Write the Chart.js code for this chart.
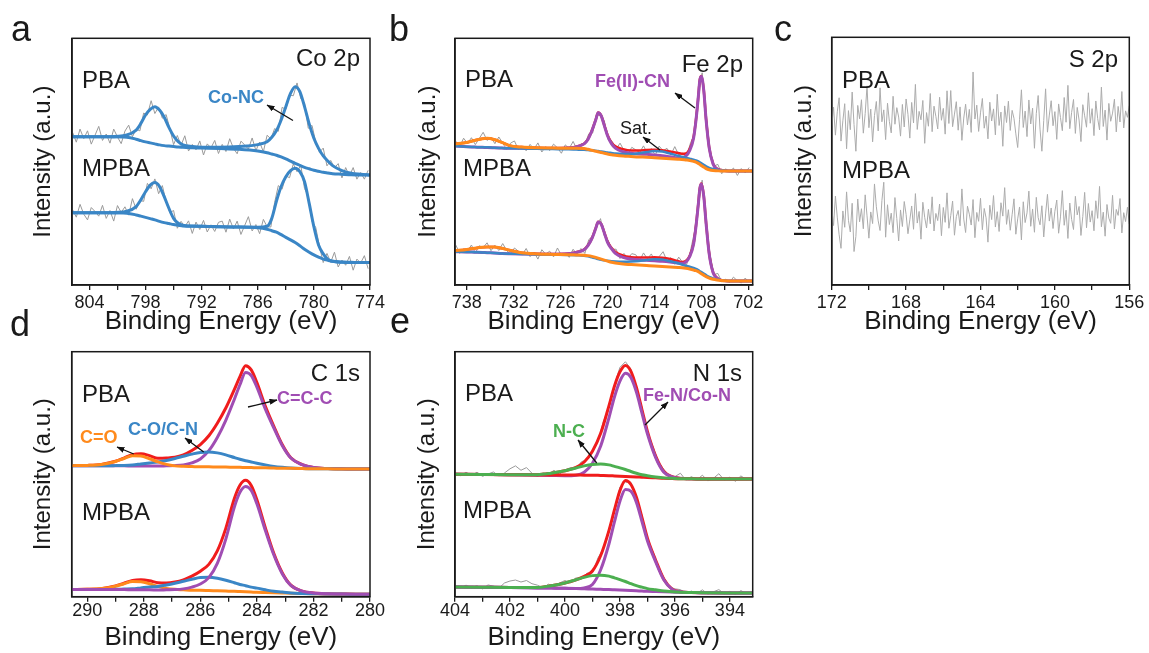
<!DOCTYPE html>
<html>
<head>
<meta charset="utf-8">
<script src="https://cdn.jsdelivr.net/npm/chart.js@4.4.1/dist/chart.umd.min.js"></script>
<style>
html,body{margin:0;padding:0;background:#fff;}
#wrap{position:relative;width:1149px;height:653px;overflow:hidden;font-family:'Liberation Sans',Arial,sans-serif;color:#1a1a1a;}
canvas{position:absolute;}
.t{position:absolute;line-height:1;white-space:nowrap;}
.pl{font-size:36px;}
.lab{font-size:24px;}
.bl{font-size:18px;font-weight:bold;}
.sm{font-size:18px;}
</style>
</head>
<body>
<div id="wrap">
<canvas id="ca" width="380" height="310" style="left:10px;top:30px"></canvas>
<canvas id="cb" width="380" height="310" style="left:395px;top:30px"></canvas>
<canvas id="cc" width="374" height="310" style="left:775px;top:30px"></canvas>
<canvas id="cd" width="380" height="310" style="left:10px;top:343px"></canvas>
<canvas id="ce" width="380" height="310" style="left:395px;top:343px"></canvas>

<div class="t pl" style="left:11px;top:11px">a</div>
<div class="t pl" style="left:389px;top:11px">b</div>
<div class="t pl" style="left:774px;top:11px">c</div>
<div class="t pl" style="left:10px;top:306px">d</div>
<div class="t pl" style="left:390px;top:303px">e</div>

<div class="t lab" style="right:789px;top:46px">Co 2p</div>
<div class="t lab" style="left:82px;top:68px">PBA</div>
<div class="t lab" style="left:82px;top:156px">MPBA</div>
<div class="t bl" style="left:208px;top:88px;color:#3a86c6">Co-NC</div>

<div class="t lab" style="right:406px;top:52px">Fe 2p</div>
<div class="t lab" style="left:465px;top:67px">PBA</div>
<div class="t lab" style="left:463px;top:156px">MPBA</div>
<div class="t bl" style="left:595px;top:72px;color:#a04db3">Fe(II)-CN</div>
<div class="t sm" style="left:620px;top:119px">Sat.</div>

<div class="t lab" style="right:31px;top:47px">S 2p</div>
<div class="t lab" style="left:842px;top:68px">PBA</div>
<div class="t lab" style="left:842px;top:158px">MPBA</div>

<div class="t lab" style="right:789px;top:361px">C 1s</div>
<div class="t lab" style="left:82px;top:382px">PBA</div>
<div class="t lab" style="left:82px;top:500px">MPBA</div>
<div class="t bl" style="left:80px;top:428px;color:#ff8a1c">C=O</div>
<div class="t bl" style="left:128px;top:420px;color:#3a86c6">C-O/C-N</div>
<div class="t bl" style="left:277px;top:389px;color:#a04db3">C=C-C</div>

<div class="t lab" style="right:407px;top:361px">N 1s</div>
<div class="t lab" style="left:465px;top:381px">PBA</div>
<div class="t lab" style="left:463px;top:498px">MPBA</div>
<div class="t bl" style="left:643px;top:386px;color:#a04db3">Fe-N/Co-N</div>
<div class="t bl" style="left:553px;top:422px;color:#4caf50">N-C</div>

<svg width="1149" height="653" style="position:absolute;left:0;top:0;pointer-events:none">
<defs><marker id="ah" markerWidth="8" markerHeight="6" refX="7.5" refY="3" orient="auto" markerUnits="userSpaceOnUse"><path d="M0,0 L8,3 L0,6 z" fill="#111"/></marker></defs>
<g stroke="#111" stroke-width="1.3" marker-end="url(#ah)">
<line x1="293" y1="120.5" x2="267" y2="105"/>
<line x1="695" y1="108" x2="675" y2="93"/>
<line x1="660" y1="150" x2="643" y2="137"/>
<line x1="133.7" y1="454" x2="117" y2="447"/>
<line x1="203.7" y1="452" x2="185" y2="438"/>
<line x1="248" y1="407" x2="277" y2="400"/>
<line x1="645" y1="425" x2="668" y2="402"/>
<line x1="596.7" y1="463" x2="578" y2="440"/>
</g>
</svg>
</div>

<script>
// ---------- Panel a : Co 2p ----------
const aEnergy = [806,804,802,800,799,798.5,798,797.5,797,796.5,796,795.5,795,794.5,794,793,792,790,788,786,785,784.5,784,783.5,783,782.5,782,781.5,781,780.5,780,779.5,779,778.5,778,777,776,775,774];
const aPbaEnvelope = [60.1,60.1,60.1,60.8,62.8,65.5,68.9,71.2,72.3,70.9,68.0,63.9,60.4,58.1,56.8,56.1,55.8,55.8,56.1,56.9,58.1,59.9,62.6,66.9,72.3,77.7,80.4,78.4,72.3,65.3,59.5,55.4,52.3,50.2,48.4,46.4,45.3,44.9,44.6];
const aPbaBackground = [60.1,60.1,60.1,59.9,59.1,58.5,58.0,57.6,57.2,56.8,56.5,56.3,56.1,55.9,55.8,55.6,55.5,55.3,55.0,54.3,53.6,53.1,52.6,51.9,51.1,50.2,49.3,48.5,47.7,47.1,46.5,46.1,45.7,45.4,45.1,44.9,44.7,44.6,44.6];
const aMpbaEnvelope = [29.3,29.3,29.3,29.9,31.8,34.5,37.8,40.5,41.5,39.9,35.8,31.1,27.0,25.0,24.2,23.9,23.8,23.6,23.5,23.4,23.8,27.0,34.0,39.9,43.9,46.4,47.3,46.0,41.9,33.1,23.6,16.2,12.6,10.4,9.6,9.2,9.1,9.1,9.1];
const aMpbaBackground = [29.3,29.3,29.3,29.1,28.4,27.9,27.4,26.9,26.4,25.8,25.3,24.9,24.5,24.2,23.9,23.8,23.8,23.6,23.5,23.2,22.6,22.0,21.4,20.4,19.3,18.3,17.2,15.9,14.5,13.3,12.2,11.3,10.5,10.0,9.6,9.3,9.2,9.1,9.1];
const aRawStart = 805.8, aRawStep = 0.4;
const aPbaRaw = [61.9,57.9,63.2,59.3,62.5,57.1,60.7,64.3,58.6,61.2,57.5,63.2,60.0,57.3,62.4,64.8,60.1,63.1,62.5,69.7,68.9,74.7,69.5,72.2,67.6,69.1,63.4,56.9,60.6,56.6,60.5,54.3,57.0,54.8,58.4,52.7,57.2,55.6,58.6,53.3,57.0,54.1,59.3,55.4,53.2,58.3,56.8,55.1,59.6,54.5,57.9,54.0,60.7,59.2,63.4,62.3,72.0,71.2,77.0,76.7,81.9,75.5,73.8,63.5,64.7,57.9,53.8,55.5,48.3,50.5,47.5,49.2,43.4,47.6,44.2,47.6,42.9,45.6,42.9,46.5];
const aMpbaRaw = [30.5,27.5,32.7,28.7,26.4,31.4,29.8,27.9,32.3,27.0,30.2,25.9,32.2,29.4,31.7,28.3,35.0,30.7,34.3,33.9,41.2,39.0,43.0,37.0,40.3,33.8,29.3,30.2,23.0,25.8,23.6,26.0,20.9,25.5,22.5,26.2,21.5,24.4,21.7,25.4,25.9,21.4,26.7,22.7,25.9,20.5,24.1,27.7,21.9,24.5,20.8,26.6,23.6,23.5,33.4,40.3,38.8,44.2,43.5,49.1,45.9,48.5,39.1,35.9,25.8,23.3,15.7,9.1,12.8,9.2,13.3,7.3,10.1,8.0,11.6,6.0,10.5,8.9,11.9,6.6];
const aMajorTicks = [804,798,792,786,780,774];
const aMinorTicks = [801,795,789,783,777];

// ---------- Panel b : Fe 2p ----------
const bEnergy = [739.5,738,737,736,735.4,734.5,733.5,732.5,731,729,727,725,724,723,722.5,722,721.5,721.2,720.8,720.4,720,719.5,719,718,717,716,715,714,713,712,711,710.5,710,709.5,709,708.7,708.4,708.2,708,707.7,707.4,707,706.5,706,705.5,705,704,703,701.4];
const bPbaEnvelope = [57.2,57.8,58.6,59.3,59.5,59.0,57.8,56.5,55.9,55.6,55.5,55.6,56.1,57.3,59.1,62.6,67.1,69.9,68.6,64.7,60.8,57.8,56.2,55.0,54.5,54.5,54.7,54.8,54.6,54.1,53.5,53.2,53.3,55.2,59.9,66.8,76.2,83.2,84.7,79.2,67.2,55.7,49.2,47.1,46.6,46.3,46.2,46.2,46.2];
const bPbaFeCN = [56.3,56.0,55.9,55.8,55.7,55.6,55.5,55.4,55.4,55.3,55.3,55.5,56.0,57.2,59.0,62.5,67.0,69.8,68.5,64.5,60.5,57.3,55.5,54.0,53.4,53.1,53.0,52.7,52.4,52.0,51.6,51.6,52.2,54.5,59.5,66.5,76.0,83.0,84.5,79.0,67.0,55.5,49.0,47.0,46.5,46.3,46.2,46.2,46.2];
const bPbaSat = [56.3,56.0,55.9,55.8,55.8,55.6,55.5,55.4,55.3,55.2,55.1,55.0,54.9,54.8,54.7,54.6,54.4,54.3,54.1,53.9,53.7,53.5,53.3,53.1,53.1,53.4,53.9,54.3,54.1,53.3,52.4,52.0,51.6,51.2,50.8,50.5,50.1,49.7,49.3,48.7,48.1,47.5,47.0,46.6,46.4,46.3,46.2,46.2,46.2];
const bPbaBackground = [57.2,57.8,58.6,59.3,59.5,59.0,57.8,56.5,55.9,55.6,55.5,55.4,55.4,55.3,55.0,54.6,54.2,54.0,53.7,53.4,53.1,52.8,52.6,52.3,52.1,51.9,51.8,51.6,51.4,51.2,51.0,50.9,50.7,50.5,50.1,49.8,49.3,48.9,48.4,47.8,47.2,46.7,46.4,46.3,46.2,46.2,46.2,46.2,46.2];
const bMpbaEnvelope = [13.9,14.4,14.9,15.3,15.4,15.4,14.9,14.1,13.1,12.7,12.6,12.8,13.3,14.4,16.1,18.9,23.1,25.6,24.7,21.2,17.6,15.1,13.4,11.9,11.3,11.1,11.1,11.2,11.0,10.5,9.7,9.3,9.7,11.8,16.8,23.8,32.8,39.2,41.1,36.2,25.2,12.7,5.1,2.9,2.0,1.7,1.6,1.6,1.6];
const bMpbaFeCN = [13.5,13.4,13.3,13.2,13.1,13.0,12.8,12.7,12.6,12.5,12.5,12.7,13.2,14.3,16.0,18.8,23.0,25.5,24.6,21.0,17.3,14.7,12.8,11.2,10.5,10.2,10.0,9.8,9.6,9.3,8.9,8.8,9.3,11.5,16.5,23.5,32.5,39.0,40.9,36.0,25.0,12.5,5.0,2.8,2.0,1.7,1.6,1.6,1.6];
const bMpbaSat = [13.5,13.4,13.3,13.2,13.1,13.0,12.8,12.7,12.6,12.4,12.3,12.2,12.1,11.9,11.6,11.2,10.8,10.5,10.2,10.0,9.8,9.6,9.5,9.4,9.5,9.7,10.1,10.4,10.3,9.6,8.8,8.3,7.8,7.4,6.9,6.5,6.0,5.6,5.2,4.6,4.0,3.3,2.7,2.2,1.9,1.7,1.6,1.6,1.6];
const bMpbaBackground = [13.9,14.4,14.9,15.3,15.4,15.4,14.9,14.1,13.1,12.6,12.4,12.3,12.2,12.1,11.9,11.6,11.2,10.9,10.5,10.1,9.7,9.2,8.9,8.5,8.3,8.1,7.9,7.7,7.5,7.3,7.1,7.0,6.8,6.5,6.1,5.8,5.4,5.0,4.6,4.0,3.4,2.8,2.3,2.0,1.8,1.7,1.6,1.6,1.6];
const bRawStart = 739.4, bRawStep = 0.5;
const bPbaRaw = [58.3,56.1,59.5,57.4,59.7,56.9,59.4,61.9,58.6,59.9,57.3,60.0,57.5,55.0,57.5,58.4,54.9,56.1,54.4,57.0,55.1,57.6,53.9,56.1,54.5,57.1,55.6,53.4,56.8,55.3,58.2,54.9,57.3,56.9,61.3,61.6,68.8,68.8,66.4,58.7,58.2,55.0,57.5,54.6,53.0,55.8,54.8,53.7,56.4,53.3,55.3,52.6,56.3,54.4,55.4,52.8,56.1,52.7,53.4,52.1,57.5,61.2,77.1,86.0,68.9,54.5,48.2,48.9,45.1,47.1,45.9,47.4,44.4,47.2,45.4,47.6];
const bMpbaRaw = [16.2,12.8,14.7,13.7,16.2,13.0,15.9,15.2,17.1,13.9,16.1,14.0,16.8,14.0,12.3,15.0,13.7,12.3,14.8,11.5,13.3,10.5,14.3,12.5,13.7,11.4,15.0,12.0,12.9,11.2,14.5,12.4,14.8,12.8,18.4,19.8,23.4,26.9,19.8,17.9,14.5,14.5,10.7,12.8,10.7,12.7,12.3,9.8,13.0,10.6,12.6,9.4,11.5,13.5,9.8,11.1,8.4,11.3,9.2,8.1,13.8,21.3,31.7,42.5,23.8,12.5,4.2,4.7,1.3,2.3,1.0,3.2,1.7,0.8,2.8,1.2];
const bMajorTicks = [738,732,726,720,714,708,702];
const bMinorTicks = [735,729,723,717,711,705];

// ---------- Panel c : S 2p ----------
const cRawStart = 172, cRawStep = 0.1;
const cPbaRaw = [64.2,71.8,60.5,69.9,75.6,58.1,66.3,73.2,55.0,70.4,62.7,77.9,64.8,54.0,72.5,67.1,74.8,61.3,69.2,80.4,
63.5,71.0,57.8,68.4,74.1,62.2,79.6,65.9,70.7,58.7,73.4,66.0,61.4,76.2,64.9,71.6,67.8,60.1,72.9,63.8,
75.1,68.9,59.3,73.7,65.4,81.0,62.8,70.1,66.7,74.5,57.2,69.6,64.1,77.3,61.9,72.2,68.1,63.0,75.8,66.5,
71.3,60.9,78.4,65.2,78.5,63.9,69.0,74.0,62.5,71.9,58.4,67.4,73.0,64.6,70.9,61.6,86.0,67.0,72.6,62.0,
69.5,75.3,63.3,68.2,59.0,73.8,66.2,71.1,60.6,77.0,64.4,69.8,56.0,72.3,65.6,74.2,62.4,70.5,67.3,61.0,
55.5,66.9,78.8,63.6,70.2,59.9,74.7,65.0,71.4,55.2,69.3,76.5,62.9,54.0,66.4,79.2,61.7,68.6,74.4,64.3,
70.0,58.8,73.1,67.6,62.3,75.7,65.7,80.6,63.1,69.7,74.9,61.2,71.7,66.6,57.9,72.8,68.3,63.7,77.6,65.3,
71.2,60.3,74.3,67.2,62.6,79.9,64.0,70.6,58.5,73.3,66.1,69.4,75.0,61.8,72.1,65.8,78.1,63.4,70.3,67.7,72.4];
const cMpbaRaw = [31.2,24.0,35.9,27.4,20.3,14.8,29.9,23.3,37.6,26.1,21.4,33.0,13.5,19.6,34.7,25.5,30.8,22.7,36.4,27.9,
18.9,29.5,24.8,40.8,31.6,25.9,22.0,34.1,41.5,19.3,32.4,24.4,29.0,21.1,35.3,26.8,17.8,30.3,23.6,33.7,
28.5,20.7,26.3,31.9,22.5,36.9,25.0,29.7,18.5,33.4,27.3,23.0,30.6,24.7,35.6,21.8,28.9,26.0,32.7,19.9,
31.3,25.3,37.2,22.9,28.0,33.9,20.1,27.6,30.1,23.9,38.8,26.6,21.2,31.8,28.6,24.2,34.5,19.1,29.3,25.7,
35.0,22.3,30.9,27.1,17.3,32.2,26.4,36.1,23.4,29.6,21.6,33.2,27.8,39.3,24.5,30.4,22.1,28.4,34.8,20.5,
26.7,31.5,18.2,33.6,25.2,29.1,37.9,23.7,30.7,21.3,35.4,27.2,24.3,32.0,19.4,28.7,36.6,25.8,31.1,22.8,
29.8,34.3,20.9,27.5,38.1,24.1,30.2,18.8,33.1,26.5,22.4,35.8,28.3,31.7,20.0,27.7,37.4,23.1,32.9,25.4,
30.0,21.9,34.0,26.9,39.8,23.5,29.4,19.7,32.5,27.0,24.9,36.2,22.6,30.5,28.1,34.9,21.0,29.2,25.6,31.4,24.6];
const cMajorTicks = [172,168,164,160,156];
const cMinorTicks = [170,166,162,158];

// ---------- Panel d : C 1s ----------
const dEnergy = [290.55,290,289.5,289,288.7,288.4,288.1,287.8,287.5,287.2,286.9,286.6,286.3,286,285.7,285.4,285.1,284.8,284.6,284.4,284.2,284,283.7,283.4,283.1,282.8,282.4,282,281.5,281,280.5,280];
const dPbaEnvelope = [53.5,53.6,54.0,55.3,56.6,58.0,58.3,57.6,56.5,56.6,56.9,57.9,59.7,62.1,65.7,70.8,77.0,84.5,89.8,94.3,92.6,87.4,77.7,69.5,62.0,56.7,53.9,52.7,52.3,52.2,52.1,52.1];
const dPbaCC = [53.4,53.4,53.4,53.4,53.4,53.3,53.3,53.3,53.3,53.4,53.5,53.8,54.6,56.2,59.6,65.0,72.0,80.5,86.5,91.5,90.3,85.5,76.5,68.8,61.6,56.6,53.9,52.7,52.3,52.2,52.1,52.1];
const dPbaCO = [53.4,53.4,53.4,53.5,53.6,53.8,54.2,54.6,55.0,55.6,56.4,57.3,58.2,58.9,59.1,58.7,57.9,56.8,56.1,55.5,55.0,54.5,53.8,53.2,52.8,52.5,52.3,52.2,52.2,52.1,52.1,52.1];
const dPbaCeqO = [53.5,53.6,54.0,55.2,56.4,57.5,57.4,56.3,55.0,54.0,53.4,53.2,53.1,53.0,53.0,52.9,52.9,52.8,52.8,52.7,52.7,52.6,52.6,52.5,52.4,52.4,52.3,52.2,52.2,52.1,52.1,52.1];
const dMpbaEnvelope = [2.9,3.0,3.3,4.4,5.5,6.6,6.9,6.5,5.7,5.6,6.0,6.9,8.4,10.4,13.2,18.7,27.9,40.0,45.5,47.5,45.4,39.6,28.1,17.6,9.7,4.7,2.3,1.5,1.2,1.1,1.0,1.0];
const dMpbaCC = [2.9,2.9,2.9,2.9,2.9,2.8,2.8,2.8,2.7,2.8,2.9,3.2,3.9,5.2,7.8,13.6,23.5,36.5,42.6,45.0,43.4,37.9,27.0,17.0,9.3,4.6,2.3,1.5,1.2,1.1,1.0,1.0];
const dMpbaCO = [2.9,2.9,2.9,3.0,3.1,3.2,3.6,4.0,4.2,4.8,5.5,6.3,7.1,7.8,7.9,7.5,6.7,5.7,5.0,4.5,3.9,3.5,2.8,2.2,1.9,1.5,1.3,1.2,1.1,1.1,1.0,1.0];
const dMpbaCeqO = [2.9,3.0,3.3,4.3,5.3,6.2,6.1,5.3,4.2,3.4,3.0,2.8,2.6,2.6,2.5,2.4,2.3,2.2,2.1,2.0,1.9,1.8,1.7,1.6,1.5,1.4,1.3,1.2,1.1,1.1,1.0,1.0];
const dMajorTicks = [290,288,286,284,282,280];
const dMinorTicks = [289,287,285,283,281];

// ---------- Panel e : N 1s ----------
const eEnergy = [404,403,402,401,400.5,400,399.6,399.3,399,398.7,398.4,398.2,398,397.8,397.6,397.4,397.2,397,396.7,396.4,396.1,395.8,395.4,395,394,393.2];
const ePbaEnvelope = [50.0,49.9,49.8,49.8,50.4,51.4,52.8,55.0,59.4,66.7,77.9,85.9,91.8,94.4,92.0,85.4,76.4,67.5,57.4,51.1,49.0,48.3,48.1,48.0,48.0,48.0];
const ePbaFeN = [50.0,49.9,49.8,49.6,49.5,49.4,49.6,50.8,54.5,61.5,73.0,81.5,88.0,91.2,89.5,83.5,75.0,66.5,56.8,50.8,48.9,48.3,48.1,48.0,48.0,48.0];
const ePbaNC = [50.0,49.9,49.8,49.8,50.4,51.4,52.5,53.4,54.0,54.2,53.8,53.2,52.6,51.9,51.1,50.4,49.8,49.4,48.9,48.5,48.3,48.1,48.1,48.0,48.0,48.0];
const ePbaBackground = [50.0,49.9,49.8,49.7,49.7,49.7,49.7,49.6,49.6,49.5,49.4,49.3,49.2,49.1,49.0,48.9,48.8,48.7,48.5,48.3,48.2,48.1,48.1,48.0,48.0,48.0];
const eMpbaEnvelope = [4.0,3.9,3.8,3.8,4.5,5.6,6.9,8.3,10.5,16.8,27.0,35.4,43.3,47.4,45.8,40.6,32.4,23.9,14.9,7.1,3.1,2.0,1.7,1.6,1.5,1.5];
const eMpbaFeN = [4.0,3.9,3.8,3.6,3.5,3.4,3.3,3.6,5.0,11.0,21.5,30.5,39.0,43.8,43.0,38.5,30.8,22.8,14.2,6.8,3.0,2.0,1.7,1.6,1.5,1.5];
const eMpbaNC = [4.0,3.9,3.8,3.8,4.5,5.6,6.9,7.9,8.6,8.8,8.4,7.7,7.0,6.2,5.3,4.5,3.9,3.3,2.8,2.3,2.0,1.8,1.7,1.6,1.5,1.5];
const eMpbaBackground = [4.0,3.9,3.8,3.6,3.5,3.4,3.3,3.2,3.1,3.0,2.9,2.8,2.7,2.6,2.5,2.4,2.3,2.2,2.1,2.0,1.9,1.8,1.7,1.6,1.5,1.5];
const eRawStart = 404, eRawStep = 0.2;
const ePbaRaw = [50.4,49.4,50.8,49.6,50.8,49.1,50.1,50.9,49.3,50.5,52.2,53.4,51.6,52.7,50.4,49.1,50.5,49.9,51.6,50.0,51.7,52.7,52.3,55.1,55.9,59.8,63.4,71.6,77.2,86.4,93.6,95.9,92.9,85.0,77.5,66.5,61.4,55.0,51.9,49.2,49.0,50.4,47.6,49.0,47.7,49.6,47.3,48.3,50.2,47.5,48.8,47.1,49.3,47.8,48.6];
const eMpbaRaw = [4.3,3.5,4.7,3.7,4.5,3.2,4.8,4.3,3.5,5.6,6.4,6.8,6.0,6.6,5.3,4.7,3.7,5.1,4.1,5.6,6.6,5.7,7.7,7.5,9.6,9.7,15.8,19.7,27.7,35.0,44.8,46.8,46.6,40.3,33.4,23.1,18.5,11.9,7.8,4.1,3.2,2.9,1.4,2.3,1.4,2.8,1.1,2.0,2.9,1.2,2.2,0.9,2.5,1.3,2.0];
const eMajorTicks = [404,402,400,398,396,394];
const eMinorTicks = [403,401,399,397,395];

// ---------- drawing ----------
const FONT = "'Liberation Sans', Arial, sans-serif";
const INK = '#1a1a1a';
const BLUE = '#3a86c6', ORANGE = '#ff8a1c', PURPLE = '#a04db3', RED = '#f01c1c', GREEN = '#4caf50', GRAY = '#9a9a9a', LIGHTGRAY = '#acacac';
Chart.defaults.font.family = FONT;

function energyGrid(start, step, n) {
  const out = [];
  for (let i = 0; i < n; i++) out.push(+(start - step * i).toFixed(3));
  return out;
}
function curve(xs, ys, color, width, order) {
  return { data: xs.map((x, i) => ({ x, y: ys[i] })), borderColor: color, borderWidth: width,
    showLine: true, pointRadius: 0, fill: false, order, cubicInterpolationMode: 'monotone' };
}
function raw(start, step, ys, order, color) {
  const xs = energyGrid(start, step, ys.length);
  return { data: xs.map((x, i) => ({ x, y: ys[i] })), borderColor: color || GRAY, borderWidth: 1,
    showLine: true, pointRadius: 0, fill: false, order, tension: 0 };
}
const framePlugin = {
  id: 'frame',
  afterDraw(chart) {
    const { ctx, chartArea: a } = chart;
    ctx.save(); ctx.strokeStyle = INK; ctx.lineWidth = 1.5;
    ctx.strokeRect(a.left, a.top, a.right - a.left, a.bottom - a.top);
    ctx.restore();
  }
};

function panel(id, g, xMin, xMax, majors, minors, tickPad, titlePadBottom, yTitlePad, datasets) {
  const all = majors.concat(minors).sort((p, q) => p - q);
  return new Chart(document.getElementById(id), {
    type: 'scatter',
    data: { datasets },
    options: {
      responsive: false, animation: false, events: [], devicePixelRatio: 1,
      layout: { padding: { left: 0, bottom: 0, top: g.plotT - g.top, right: g.left + g.width - g.plotR } },
      plugins: { legend: { display: false }, tooltip: { enabled: false } },
      scales: {
        x: {
          type: 'linear', position: 'bottom', reverse: true, min: xMin, max: xMax, bounds: 'data',
          afterFit: s => { s.height = g.top + g.height - g.plotB; },
          afterBuildTicks: s => { s.ticks = all.map(v => ({ value: v })); },
          ticks: { autoSkip: false, maxRotation: 0, minRotation: 0, padding: tickPad, color: INK,
            font: { family: FONT, size: 18 },
            callback: v => (majors.includes(v) ? String(v) : '') },
          grid: { display: true, drawOnChartArea: false, drawTicks: true, tickLength: 5, color: INK, lineWidth: 1.3 },
          border: { display: true, color: INK, width: 1.5 },
          title: { display: true, text: 'Binding Energy (eV)', color: INK,
            font: { family: FONT, size: 26 }, padding: { top: 0, bottom: titlePadBottom } }
        },
        y: {
          min: 0, max: 100,
          afterFit: s => { s.width = g.plotL - g.left; },
          ticks: { display: false }, grid: { display: false },
          border: { display: true, color: INK, width: 1.5 },
          title: { display: true, text: 'Intensity (a.u.)', color: INK,
            font: { family: FONT, size: 24 }, padding: { top: yTitlePad, bottom: 0 } }
        }
      }
    },
    plugins: [framePlugin]
  });
}

panel('ca', { left: 10, top: 30, width: 380, height: 310, plotL: 72, plotR: 370, plotT: 38.3, plotB: 285 },
  774, 805.86, aMajorTicks, aMinorTicks, 2, 3, 18.6, [
    raw(aRawStart, aRawStep, aPbaRaw, 10),
    raw(aRawStart, aRawStep, aMpbaRaw, 10),
    curve(aEnergy, aPbaBackground, BLUE, 3, 2),
    curve(aEnergy, aPbaEnvelope, BLUE, 3, 1),
    curve(aEnergy, aMpbaBackground, BLUE, 3, 2),
    curve(aEnergy, aMpbaEnvelope, BLUE, 3, 1)
  ]);

panel('cb', { left: 395, top: 30, width: 380, height: 310, plotL: 455, plotR: 752.7, plotT: 38.3, plotB: 285 },
  701.44, 739.5, bMajorTicks, bMinorTicks, 2, 3, 19.1, [
    raw(bRawStart, bRawStep, bPbaRaw, 10),
    raw(bRawStart, bRawStep, bMpbaRaw, 10),
    curve(bEnergy, bPbaEnvelope, RED, 2.5, 5),
    curve(bEnergy, bPbaFeCN, PURPLE, 3, 4),
    curve(bEnergy, bPbaSat, BLUE, 2.5, 3),
    curve(bEnergy, bPbaBackground, ORANGE, 3, 2),
    curve(bEnergy, bMpbaEnvelope, RED, 2.5, 5),
    curve(bEnergy, bMpbaFeCN, PURPLE, 3, 4),
    curve(bEnergy, bMpbaSat, BLUE, 2.5, 3),
    curve(bEnergy, bMpbaBackground, ORANGE, 3, 2)
  ]);

panel('cc', { left: 775, top: 30, width: 374, height: 310, plotL: 831.7, plotR: 1129.3, plotT: 37.3, plotB: 285 },
  156, 172, cMajorTicks, cMinorTicks, 2, 3, 14.6, [
    raw(cRawStart, cRawStep, cPbaRaw, 10, LIGHTGRAY),
    raw(cRawStart, cRawStep, cMpbaRaw, 10, LIGHTGRAY)
  ]);

panel('cd', { left: 10, top: 343, width: 380, height: 310, plotL: 71.7, plotR: 370, plotT: 351.7, plotB: 596.7 },
  280, 290.55, dMajorTicks, dMinorTicks, -1, 0, 18.6, [
    curve(dEnergy, dPbaEnvelope, RED, 3, 6),
    curve(dEnergy, dPbaCC, PURPLE, 3, 5),
    curve(dEnergy, dPbaCO, BLUE, 3, 4),
    curve(dEnergy, dPbaCeqO, ORANGE, 3, 3),
    curve(dEnergy, dMpbaEnvelope, RED, 3, 6),
    curve(dEnergy, dMpbaCeqO, ORANGE, 3, 5),
    curve(dEnergy, dMpbaCO, BLUE, 3, 4),
    curve(dEnergy, dMpbaCC, PURPLE, 3, 3)
  ]);

panel('ce', { left: 395, top: 343, width: 380, height: 310, plotL: 455, plotR: 752.7, plotT: 351.7, plotB: 596.7 },
  393.17, 404, eMajorTicks, eMinorTicks, -1, 0, 17.6, [
    raw(eRawStart, eRawStep, ePbaRaw, 10),
    raw(eRawStart, eRawStep, eMpbaRaw, 10),
    curve(eEnergy, ePbaEnvelope, RED, 3, 6),
    curve(eEnergy, ePbaFeN, PURPLE, 3, 5),
    curve(eEnergy, ePbaBackground, RED, 3, 4),
    curve(eEnergy, ePbaNC, GREEN, 3, 3),
    curve(eEnergy, eMpbaEnvelope, RED, 3, 6),
    curve(eEnergy, eMpbaFeN, PURPLE, 3, 5),
    curve(eEnergy, eMpbaBackground, PURPLE, 3, 4),
    curve(eEnergy, eMpbaNC, GREEN, 3, 3)
  ]);
</script>
</body>
</html>
